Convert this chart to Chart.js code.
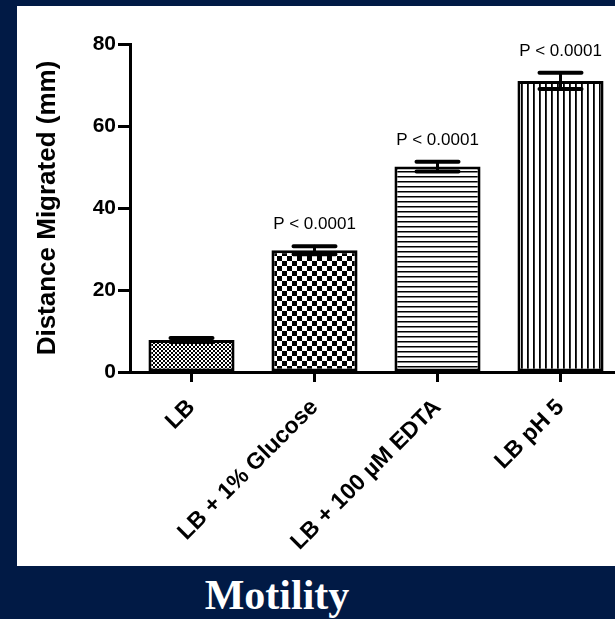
<!DOCTYPE html>
<html>
<head>
<meta charset="utf-8">
<script src="https://cdn.jsdelivr.net/npm/chart.js@4.4.0/dist/chart.umd.min.js"></script>
<style>
    html, body { margin: 0; padding: 0; }
    body { width: 615px; height: 619px; background: #011a45; position: relative; overflow: hidden; }
    #panel { position: absolute; left: 17px; top: 6px; width: 598px; height: 560px; background: #fff; overflow: hidden; }
    #panel canvas { position: absolute; left: 0; top: 0; }
    #title { position: absolute; left: 177px; width: 200px; top: 574px; text-align: center; color: #fff;
             font: bold 42px/42px "Liberation Serif", "Times New Roman", serif; }
</style>
</head>
<body>
<div id="panel"><canvas id="chart" width="610" height="560"></canvas></div>
<div id="title">Motility</div>
<script>
var categories = ['LB', 'LB + 1% Glucose', 'LB + 100 µM EDTA', 'LB pH 5'];
var distance = [7.8, 29.7, 50.1, 71.0];
var sem = [0.5, 1.0, 1.2, 2.0];
var pLabels = ['', 'P < 0.0001', 'P < 0.0001', 'P < 0.0001'];
var yTicks = [0, 20, 40, 60, 80];

var canvas = document.getElementById('chart');
var mainCtx = canvas.getContext('2d');

// little tiles for the bar fills
function makePattern(kind) {
    var c = document.createElement('canvas');
    var x = c.getContext('2d');
    if (kind == 'fine' || kind == 'check') {
        var s = kind == 'fine' ? 2 : 5;
        c.width = s * 2; c.height = s * 2;
        x.fillStyle = '#fff'; x.fillRect(0, 0, s * 2, s * 2);
        x.fillStyle = '#000';
        x.fillRect(0, 0, s, s);
        x.fillRect(s, s, s, s);
    } else if (kind == 'hlines') {
        c.width = 5; c.height = 5;
        x.fillStyle = '#fff'; x.fillRect(0, 0, 5, 5);
        x.fillStyle = '#000'; x.fillRect(0, 0, 5, 1.5);
    } else {
        c.width = 6; c.height = 6;
        x.fillStyle = '#fff'; x.fillRect(0, 0, 6, 6);
        x.fillStyle = '#000'; x.fillRect(0, 0, 1.8, 6);
    }
    return mainCtx.createPattern(c, 'repeat');
}

var fills = [makePattern('fine'), makePattern('check'), makePattern('hlines'), makePattern('vlines')];

var errorBars = {
    id: 'errorBars',
    afterDatasetsDraw: function(chart) {
        var ctx = chart.ctx;
        var y = chart.scales.y;
        var meta = chart.getDatasetMeta(0);
        ctx.save();
        ctx.strokeStyle = '#000';
        ctx.lineCap = 'round';
        ctx.fillStyle = '#000';
        ctx.font = '17px "Liberation Sans", Arial, sans-serif';
        ctx.textAlign = 'center';
        ctx.textBaseline = 'alphabetic';
        meta.data.forEach(function(bar, i) {
            var top = y.getPixelForValue(distance[i] + sem[i]);
            var bottom = y.getPixelForValue(distance[i] - sem[i]);
            ctx.lineWidth = 3;
            ctx.beginPath();
            ctx.moveTo(bar.x, top);
            ctx.lineTo(bar.x, bottom);
            ctx.stroke();
            ctx.lineWidth = 4;
            ctx.beginPath();
            ctx.moveTo(bar.x - 21, top); ctx.lineTo(bar.x + 21, top);
            ctx.moveTo(bar.x - 21, bottom); ctx.lineTo(bar.x + 21, bottom);
            ctx.stroke();
            if (pLabels[i]) {
                ctx.fillText(pLabels[i], bar.x, top - 17);
            }
        });
        ctx.restore();
    }
};

Chart.defaults.font.family = '"Liberation Sans", Arial, sans-serif';
Chart.defaults.color = '#000';

var chart = new Chart(mainCtx, {
    type: 'bar',
    data: {
        labels: categories,
        datasets: [{
            data: distance,
            backgroundColor: fills,
            borderColor: '#000',
            borderWidth: 3,
            borderSkipped: false,
            barPercentage: 0.7,
            categoryPercentage: 1.0
        }]
    },
    options: {
        responsive: false,
        animation: false,
        devicePixelRatio: 1,
        layout: { padding: { left: 8, top: 38, right: 5, bottom: 0 } },
        plugins: { legend: { display: false }, tooltip: { enabled: false } },
        scales: {
            x: {
                afterFit: function(scale) { scale.height = 194; },
                border: { width: 3, color: '#000' },
                grid: { offset: false, drawOnChartArea: false, tickLength: 10, tickWidth: 3, tickColor: '#000' },
                ticks: { maxRotation: 45, minRotation: 45, padding: 12, font: { size: 23, weight: 'bold' } }
            },
            y: {
                min: 0,
                max: 80,
                afterFit: function(scale) { scale.width = 105; },
                afterBuildTicks: function(scale) {
                    scale.ticks = yTicks.map(function(v) { return { value: v }; });
                },
                border: { width: 3, color: '#000' },
                grid: { drawOnChartArea: false, tickLength: 12, tickWidth: 3, tickColor: '#000' },
                ticks: { padding: 2, font: { size: 21, weight: 'bold' } },
                title: {
                    display: true,
                    text: 'Distance Migrated (mm)',
                    padding: { top: 7, bottom: 0 },
                    font: { size: 26, weight: 'bold' }
                }
            }
        }
    },
    plugins: [errorBars]
});
</script>
</body>
</html>
